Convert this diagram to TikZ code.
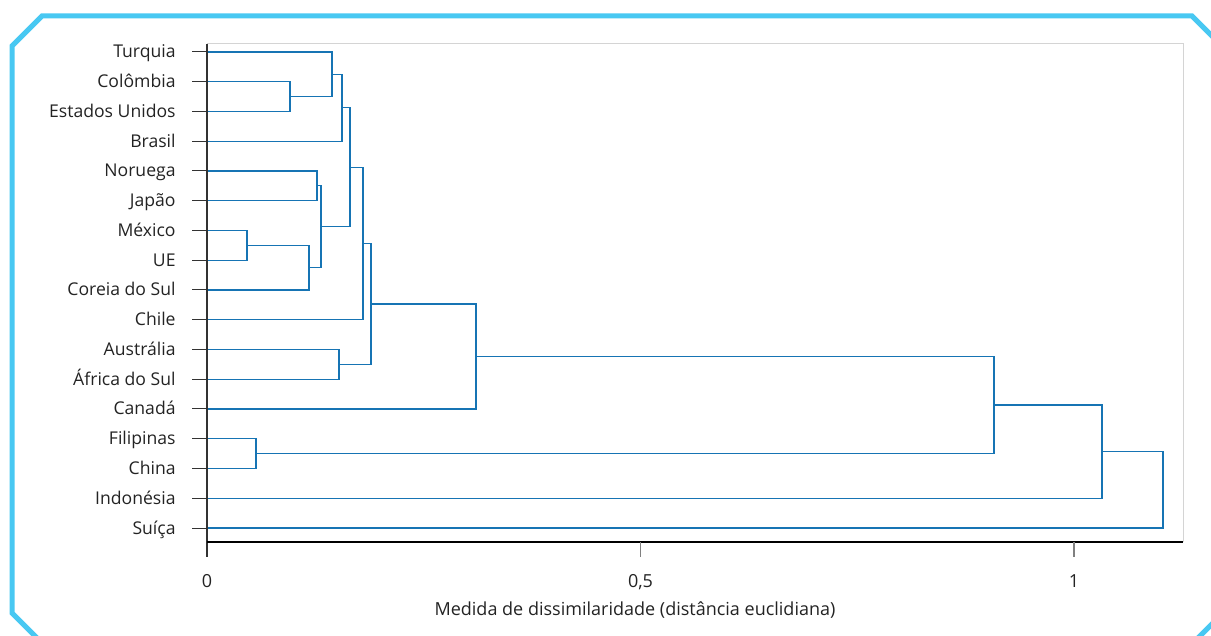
\documentclass[tikz,border=0pt]{standalone}
\usepackage{fontspec}
\setmainfont{Open Sans}
\usepackage{tikz}
\usetikzlibrary{positioning}

\definecolor{framecyan}{RGB}{72,200,242}
\definecolor{dendroblue}{RGB}{22,116,180}
\definecolor{boxgray}{RGB}{212,212,212}
\definecolor{axisgray}{RGB}{50,50,50}
\definecolor{textgray}{RGB}{35,35,35}

\tikzset{
  country/.style={anchor=base east, inner sep=0pt, font=\fontsize{8.8}{10}\selectfont, text=textgray},
  xlabel/.style={anchor=base, inner sep=0pt, font=\fontsize{9}{10}\selectfont, text=textgray},
  link/.style={draw=dendroblue, line width=0.6pt},
  ytick/.style={draw=axisgray, line width=0.5pt},
  framebox/.style={draw=framecyan, line width=2.5pt},
}

\begin{document}
\begin{tikzpicture}[x=0.5pt, y=-0.5pt]
    \useasboundingbox (0,0) rectangle (1211,636);
    % outer frame, cut at the page edge
    \begin{scope}
        \clip (0,0) rectangle (1211,636);
        \draw[framebox] (42,16) -- (1192,16) -- (1232,56) -- (1232,604) -- (1176,660) -- (59,660) -- (12,613) -- (12,46) -- cycle;
    \end{scope}
    % plot box
    \draw[boxgray, line width=0.5pt] (207,44) -- (1183,44) -- (1183,542);

    % leaves
    \foreach \name/\lab/\yy in {tur/Turquia/52, col/Colômbia/81.75, eua/Estados Unidos/111.5, bra/Brasil/141.25,
        nor/Noruega/171, jap/Japão/200.75, mex/México/230.5, ue/UE/260.25, cor/Coreia do Sul/290,
        chi/Chile/319.75, aus/Austrália/349.5, afs/África do Sul/379.25, can/Canadá/409,
        fil/Filipinas/438.75, chn/China/468.5, ind/Indonésia/498.25, sui/Suíça/528} {
        \coordinate (\name) at (207,\yy);
        \node[country] (\name-lab) at (176,\yy+6) {\lab};
        \draw[ytick] (\name) -- ++(-15,0);
    }

    % merges
    \coordinate (m1)  at (290,96.63);
    \coordinate (m2)  at (332,74.31);
    \coordinate (m3)  at (342,107.78);
    \coordinate (m4)  at (317,185.88);
    \coordinate (m5)  at (247,245.38);
    \coordinate (m6)  at (309,267.69);
    \coordinate (m7)  at (321,226.78);
    \coordinate (m8)  at (350,167.28);
    \coordinate (m9)  at (363,243.52);
    \coordinate (m10) at (339,364.38);
    \coordinate (m11) at (371,303.95);
    \coordinate (m12) at (476,356.47);
    \coordinate (m13) at (256,453.63);
    \coordinate (m14) at (994,405.05);
    \coordinate (m15) at (1102,451.65);
    \coordinate (m16) at (1163,489.83);

    \draw[link] (col) -| (m1) |- (eua);
    \draw[link] (tur) -| (m2) |- (m1);
    \draw[link] (m2) -| (m3) |- (bra);
    \draw[link] (nor) -| (m4) |- (jap);
    \draw[link] (mex) -| (m5) |- (ue);
    \draw[link] (m5) -| (m6) |- (cor);
    \draw[link] (m4) -| (m7) |- (m6);
    \draw[link] (m3) -| (m8) |- (m7);
    \draw[link] (m8) -| (m9) |- (chi);
    \draw[link] (aus) -| (m10) |- (afs);
    \draw[link] (m9) -| (m11) |- (m10);
    \draw[link] (m11) -| (m12) |- (can);
    \draw[link] (fil) -| (m13) |- (chn);
    \draw[link] (m12) -| (m14) |- (m13);
    \draw[link] (m14) -| (m15) |- (ind);
    \draw[link] (m15) -| (m16) |- (sui);

    % axes
    \draw[axisgray, line width=0.6pt] (207,44) -- (207,557);
    \draw[black, line width=0.6pt] (207,542) -- (1183,542);
    \draw[gray, line width=0.6pt] (640.5,542) -- (640.5,557);
    \draw[gray, line width=0.6pt] (1074,542) -- (1074,557);
    \node[xlabel] (t0) at (207,587) {0};
    \node[xlabel] (t05) at (640.5,587) {0,5};
    \node[xlabel] (t1) at (1074,587) {1};
    \node[xlabel] (xtitle) at (635,615) {Medida de dissimilaridade (distância euclidiana)};
\end{tikzpicture}
\end{document}
